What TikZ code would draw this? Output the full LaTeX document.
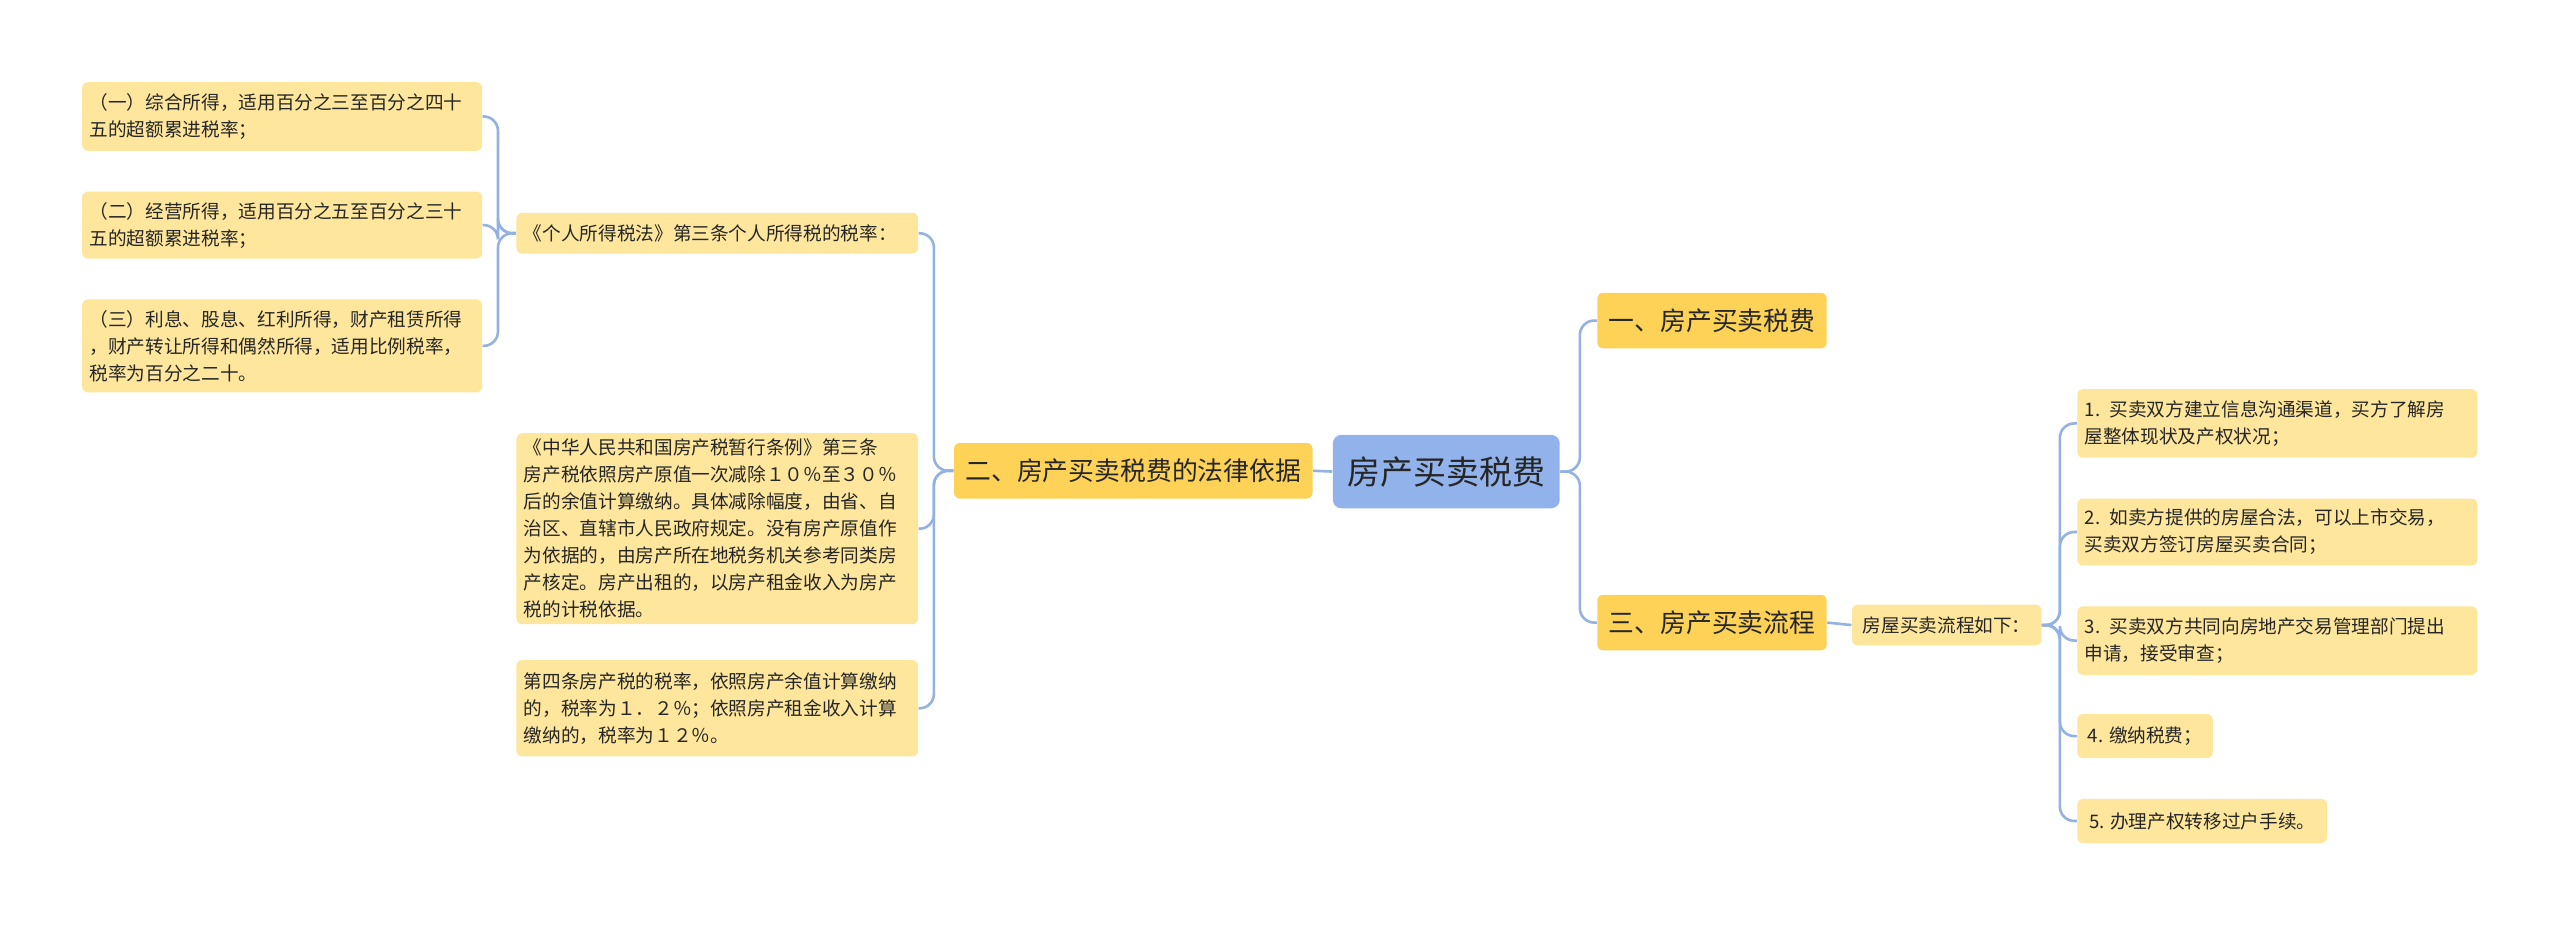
\documentclass[tikz,border=0pt]{standalone}
\usepackage{fontspec}
\setmainfont{Noto Sans CJK SC}
\begin{document}
\begin{tikzpicture}[x=0.02cm,y=-0.02cm,
 leaf/.style={draw=none,fill=leafc,rounded corners=2pt,font=\fontsize{6.5}{9.4}\selectfont,text=black!85,inner xsep=0.09cm,inner ysep=0.06cm,align=left,anchor=north west},
 mid/.style={fill=midc,rounded corners=2pt,font=\fontsize{9}{11}\selectfont,text=black!85,inner xsep=0.14cm,anchor=north west,minimum height=0.68cm},
 conn/.style={draw=connc,line width=0.9pt,rounded corners=5pt}]
\definecolor{leafc}{HTML}{FEE69C}
\definecolor{midc}{HTML}{FDD257}
\definecolor{rootc}{HTML}{91B2EA}
\definecolor{connc}{HTML}{93B2E2}
\useasboundingbox[fill=white] (0,0) rectangle (1568,567);
% root and mid
\node[fill=rootc,rounded corners=3pt,font=\fontsize{11.5}{13}\selectfont,text=black!85,minimum width=2.78cm,minimum height=0.9cm,anchor=north west] (root) at (816,266) {房产买卖税费};
\node[mid,minimum width=4.2cm] (n2) at (584,271) {二、房产买卖税费的法律依据};
\node[mid,minimum width=2.68cm] (n1) at (978,179) {一、房产买卖税费};
\node[mid,minimum width=2.68cm] (n3) at (978,364) {三、房产买卖流程};
% left level 2
\node[leaf,text width=4.74cm,minimum height=0.5cm] (a) at (316,130) {《个人所得税法》第三条个人所得税的税率：};
\node[leaf,text width=4.74cm,minimum height=2.34cm] (b) at (316,265) {《中华人民共和国房产税暂行条例》第三条\\房产税依照房产原值一次减除１０％至３０％\\后的余值计算缴纳。具体减除幅度，由省、自\\治区、直辖市人民政府规定。没有房产原值作\\为依据的，由房产所在地税务机关参考同类房\\产核定。房产出租的，以房产租金收入为房产\\税的计税依据。};
\node[leaf,text width=4.74cm,minimum height=1.18cm] (c) at (316,404) {第四条房产税的税率，依照房产余值计算缴纳\\的，税率为１．２％；依照房产租金收入计算\\缴纳的，税率为１２％。};
% left level 3
\node[leaf,text width=4.72cm,minimum height=0.84cm] (a1) at (50,50) {（一）综合所得，适用百分之三至百分之四十\\五的超额累进税率；};
\node[leaf,text width=4.72cm,minimum height=0.82cm] (a2) at (50,117) {（二）经营所得，适用百分之五至百分之三十\\五的超额累进税率；};
\node[leaf,text width=4.72cm,minimum height=1.14cm] (a3) at (50,183) {（三）利息、股息、红利所得，财产租赁所得\\，财产转让所得和偶然所得，适用比例税率，\\税率为百分之二十。};
% right
\node[leaf,minimum width=2.32cm,minimum height=0.5cm] (f) at (1134,370) {房屋买卖流程如下：};
\node[leaf,text width=4.72cm,minimum height=0.84cm] (r1) at (1272,238) {1. 买卖双方建立信息沟通渠道，买方了解房\\屋整体现状及产权状况；};
\node[leaf,text width=4.72cm,minimum height=0.82cm] (r2) at (1272,305) {2. 如卖方提供的房屋合法，可以上市交易，\\买卖双方签订房屋买卖合同；};
\node[leaf,text width=4.72cm,minimum height=0.84cm] (r3) at (1272,371) {3. 买卖双方共同向房地产交易管理部门提出\\申请，接受审查；};
\node[leaf,minimum width=1.66cm,minimum height=0.54cm] (r4) at (1272,437) {4. 缴纳税费；};
\node[leaf,minimum width=3.06cm,minimum height=0.54cm] (r5) at (1272,489) {5. 办理产权转移过户手续。};
% connectors
\draw[conn] (root.west) -- (n2.east);
\foreach \t in {n1,n3} \draw[conn] (root.east) -- ++(12,0) |- (\t.west);
\foreach \t in {a,b,c} \draw[conn] (n2.west) -- ++(-12,0) |- (\t.east);
\foreach \t in {a1,a2,a3} \draw[conn] (a.west) -- ++(-11,0) |- (\t.east);
\draw[conn] (n3.east) -- (f.west);
\foreach \t in {r1,r2,r3,r4,r5} \draw[conn] (f.east) -- ++(11,0) |- (\t.west);
\end{tikzpicture}
\end{document}
